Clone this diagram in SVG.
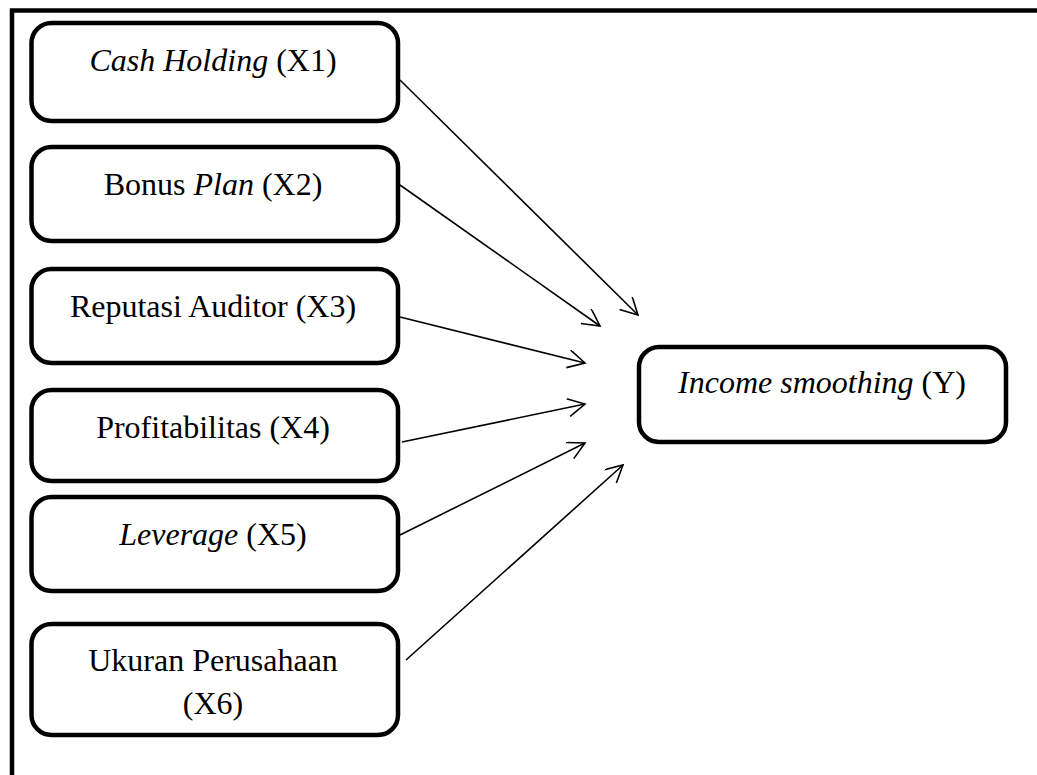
<svg xmlns="http://www.w3.org/2000/svg" width="1037" height="775" viewBox="0 0 1037 775">
<style>
.box{fill:#fff;stroke:#000;stroke-width:4.5}
.t{font-family:"Liberation Serif","Times New Roman",serif;font-size:32px;fill:#000;text-anchor:middle}
.i{font-style:italic}
.c{stroke:#000;stroke-width:1.6;fill:none}
</style>
<defs>
<marker id="ah" viewBox="0 0 20 20" refX="18" refY="9" markerWidth="20" markerHeight="20" markerUnits="userSpaceOnUse" orient="auto">
<path d="M1,0 L18,9 L1,18" fill="none" stroke="#000" stroke-width="1.6"/>
</marker>
</defs>
<rect width="1037" height="775" fill="#fff"/>
<g id="frame">
<path d="M12,775 V10.5 H1037" fill="none" stroke="#000" stroke-width="4.5"/>
</g>
<g id="connectors">
<line class="c" x1="400" y1="80" x2="638" y2="315" marker-end="url(#ah)"/>
<line class="c" x1="400" y1="185" x2="600" y2="326" marker-end="url(#ah)"/>
<line class="c" x1="400" y1="317" x2="585" y2="363" marker-end="url(#ah)"/>
<line class="c" x1="402" y1="442" x2="585" y2="404" marker-end="url(#ah)"/>
<line class="c" x1="400" y1="535" x2="585" y2="443" marker-end="url(#ah)"/>
<line class="c" x1="406" y1="660" x2="623" y2="465" marker-end="url(#ah)"/>
</g>
<g id="x1">
<rect class="box" x="31.5" y="23" width="366.5" height="98" rx="20"/>
<text class="t" x="213" y="71"><tspan class="i">Cash Holding</tspan> (X1)</text>
</g>
<g id="x2">
<rect class="box" x="31.5" y="147" width="366.5" height="94" rx="20"/>
<text class="t" x="213" y="195">Bonus <tspan class="i">Plan</tspan> (X2)</text>
</g>
<g id="x3">
<rect class="box" x="31.5" y="269" width="366.5" height="94" rx="20"/>
<text class="t" x="213" y="317">Reputasi Auditor (X3)</text>
</g>
<g id="x4">
<rect class="box" x="31.5" y="390" width="366.5" height="91" rx="20"/>
<text class="t" x="213" y="438">Profitabilitas (X4)</text>
</g>
<g id="x5">
<rect class="box" x="31.5" y="497" width="366.5" height="94" rx="20"/>
<text class="t" x="213" y="545"><tspan class="i">Leverage</tspan> (X5)</text>
</g>
<g id="x6">
<rect class="box" x="31.5" y="624" width="366.5" height="111" rx="20"/>
<text class="t" x="213" y="671">Ukuran Perusahaan</text>
<text class="t" x="213" y="714">(X6)</text>
</g>
<g id="y">
<rect class="box" x="639" y="347" width="367" height="95" rx="20"/>
<text class="t" x="822" y="393"><tspan class="i">Income smoothing</tspan> (Y)</text>
</g>
</svg>
